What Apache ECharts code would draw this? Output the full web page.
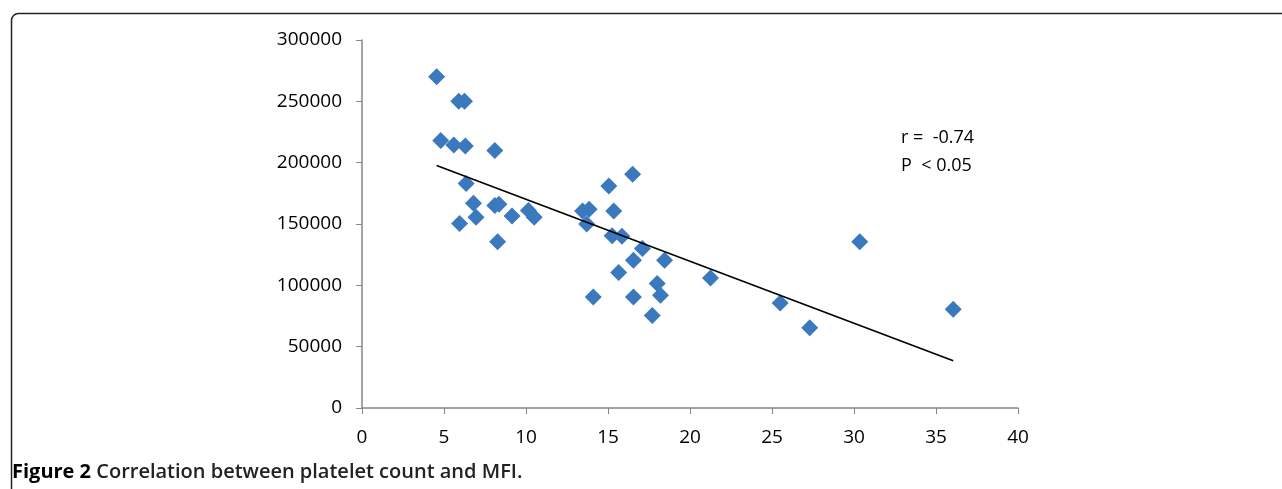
<!DOCTYPE html>
<html>
<head>
<meta charset="utf-8">
<script src="https://cdn.jsdelivr.net/npm/echarts@6/dist/echarts.min.js"></script>
<style>
  html, body { margin: 0; padding: 0; background: #fff; }
  #chart { width: 1282px; height: 489px; }
</style>
</head>
<body>
<div id="chart"></div>
<script>
// MFI (x) vs platelet count (y)
const mfi = [
  4.55, 4.8, 5.6, 6.3, 5.9, 6.25, 8.1, 6.35, 6.8, 8.1,
  8.35, 6.95, 5.95, 9.15, 10.15, 10.5, 13.45, 13.85, 15.35, 15.05,
  16.5, 8.27, 13.7, 15.25, 15.85, 17.1, 18.45, 16.55, 15.65, 18.0,
  18.2, 16.55, 14.1, 17.7, 21.25, 25.5, 27.3, 30.35, 36.05,
];
const platelets = [
  270000, 218000, 214500, 213500, 250000, 250000, 210000, 183000, 167000, 165000,
  166000, 155500, 150500, 156500, 161000, 155500, 160500, 162000, 160500, 181000,
  190500, 135500, 150000, 140500, 140000, 130000, 120500, 120500, 110500, 101500,
  92000, 90500, 90500, 75500, 106000, 85500, 65500, 135500, 80500,
];

// trendline end points
const trendX = [4.55, 36.05];
const trendY = [197700, 38600];

const xTicks = [0, 5, 10, 15, 20, 25, 30, 35, 40];
const yTicks = [0, 50000, 100000, 150000, 200000, 250000, 300000];

const statLines = ["r =  -0.74", "P  < 0.05"];

const font = "'Open Sans', 'DejaVu Sans', sans-serif";
const axisColor = "#868686";

let chart = echarts.init(document.getElementById("chart"));

let scatterData = mfi.map((x, i) => [x, platelets[i]]);
let trendData = trendX.map((x, i) => [x, trendY[i]]);

let option = {
  backgroundColor: "#fff",
  animation: false,
  grid: {
    left: 362,
    right: 1282 - 1018,
    top: 40,
    bottom: 489 - 408,
  },
  xAxis: {
    type: "value",
    min: xTicks[0],
    max: xTicks[xTicks.length - 1],
    interval: 5,
    splitLine: { show: false },
    axisLine: { onZero: false, lineStyle: { color: axisColor, width: 1.5 } },
    axisTick: { show: true, length: 6, lineStyle: { color: axisColor } },
    axisLabel: {
      margin: 20,
      fontFamily: font,
      fontSize: 19,
      color: "#000",
    },
  },
  yAxis: {
    type: "value",
    min: yTicks[0],
    max: yTicks[yTicks.length - 1],
    interval: 50000,
    splitLine: { show: false },
    axisLine: { show: true, lineStyle: { color: axisColor, width: 1.5 } },
    axisTick: { show: true, length: 6, lineStyle: { color: axisColor } },
    axisLabel: {
      margin: 20,
      fontFamily: font,
      fontSize: 19,
      color: "#000",
      formatter: (v) => String(v),
    },
  },
  series: [
    {
      type: "scatter",
      symbol: "diamond",
      symbolSize: 17,
      itemStyle: { color: "#3A79BD", opacity: 1 },
      data: scatterData,
      z: 3,
    },
    {
      type: "line",
      data: trendData,
      symbol: "none",
      lineStyle: { color: "#000", width: 1.6 },
      z: 4,
    },
  ],
  graphic: [
    {
      type: "rect",
      left: 9,
      top: 11,
      shape: { width: 1400, height: 600, r: 7 },
      style: { fill: "none", stroke: "#222", lineWidth: 1.5 },
      silent: true,
    },
    {
      type: "text",
      left: 901,
      top: 124,
      style: {
        text: statLines.join("\n"),
        font: "18px " + font,
        lineHeight: 28,
        fill: "#000",
      },
    },
    {
      type: "text",
      left: 12,
      top: 462,
      style: {
        text: "{b|Figure 2} Correlation between platelet count and MFI.",
        rich: {
          b: { fontFamily: font, fontSize: 20, fontWeight: "bold", fill: "#000" },
        },
        fontFamily: font,
        fontSize: 20,
        fontWeight: 600,
        fill: "#222",
      },
    },
  ],
};

chart.setOption(option);
</script>
</body>
</html>
